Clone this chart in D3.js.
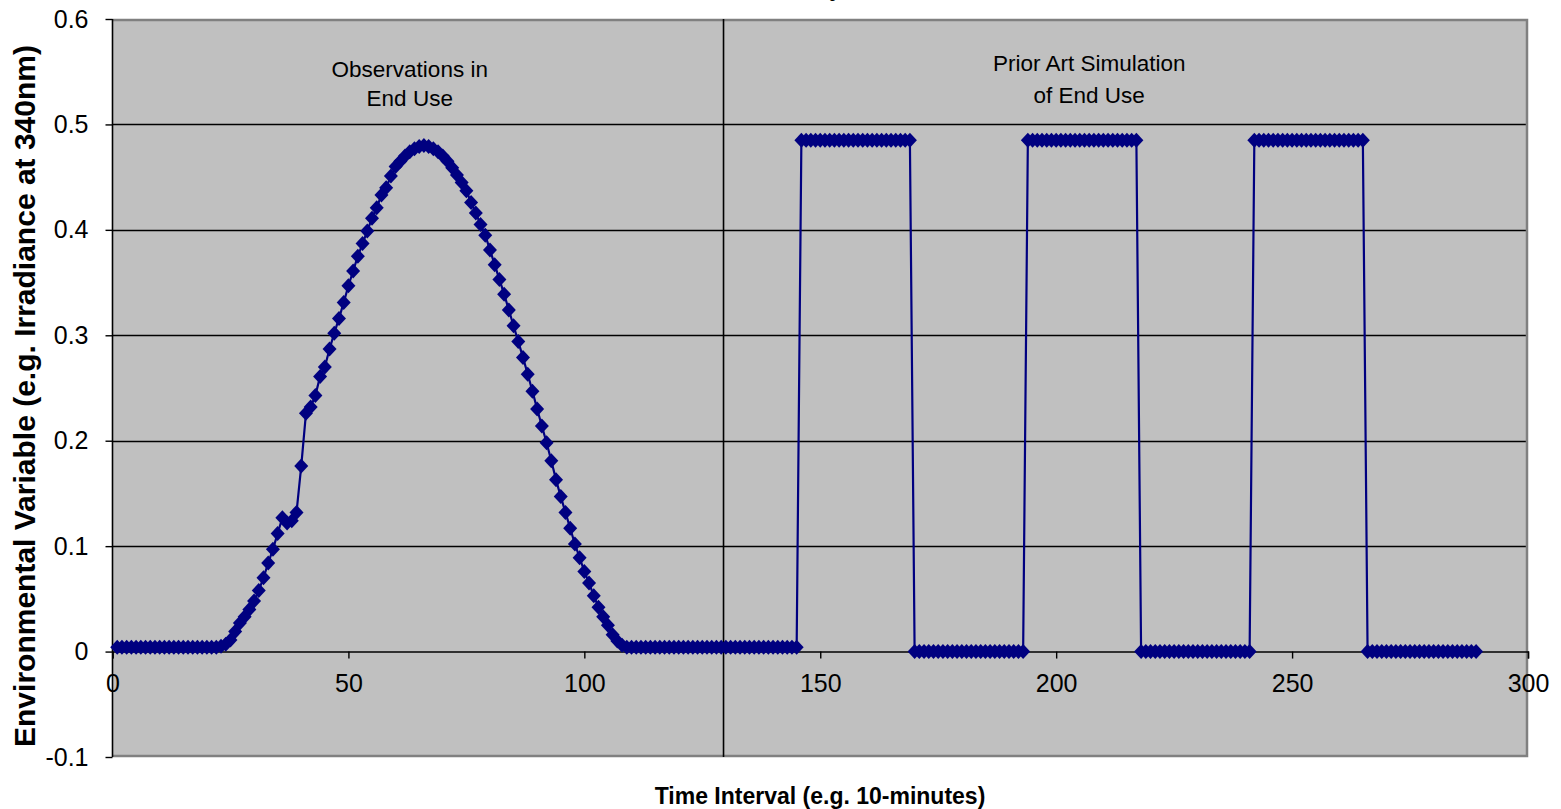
<!DOCTYPE html>
<html>
<head>
<meta charset="utf-8">
<script src="https://cdn.jsdelivr.net/npm/d3@7"></script>
<style>
  html, body { margin: 0; padding: 0; background: #ffffff; }
  svg { display: block; font-family: Arial, "Liberation Sans", sans-serif; }
</style>
</head>
<body>
<svg id="chart" width="1561" height="809"></svg>
<script>
// Observed profile (time index 1..145) followed by the stepped simulation (146..289)
const observedX = d3.range(1, 146);
const observedY = [
  // 1-22: night baseline
  0.004, 0.004, 0.004, 0.004, 0.004, 0.004, 0.004, 0.004, 0.004, 0.004,
  0.004, 0.004, 0.004, 0.004, 0.004, 0.004, 0.004, 0.004, 0.004, 0.004,
  0.004, 0.004,
  // 23-40: morning rise
  0.005, 0.007, 0.011, 0.019, 0.027, 0.033, 0.040, 0.048, 0.058, 0.070,
  0.084, 0.097, 0.112, 0.127, 0.122, 0.124, 0.132, 0.176,
  // 41-60
  0.226, 0.232, 0.243, 0.261, 0.270, 0.287, 0.302, 0.316, 0.331, 0.347,
  0.361, 0.375, 0.387, 0.399, 0.411, 0.421, 0.433, 0.440, 0.451, 0.460,
  // 61-75: midday peak
  0.465, 0.470, 0.474, 0.477, 0.479, 0.480, 0.479, 0.477, 0.474, 0.470,
  0.465, 0.459, 0.452, 0.445, 0.437,
  // 76-108: afternoon fall
  0.426, 0.416, 0.405, 0.395, 0.381, 0.367, 0.353, 0.339, 0.324, 0.309,
  0.294, 0.279, 0.263, 0.247, 0.230, 0.214, 0.198, 0.181, 0.163, 0.147,
  0.132, 0.117, 0.102, 0.089, 0.076, 0.065, 0.053, 0.042, 0.033, 0.025,
  0.016, 0.010, 0.006,
  // 109-145: evening baseline
  0.004, 0.004, 0.004, 0.004, 0.004, 0.004, 0.004, 0.004, 0.004, 0.004,
  0.004, 0.004, 0.004, 0.004, 0.004, 0.004, 0.004, 0.004, 0.004, 0.004,
  0.004, 0.004, 0.004, 0.004, 0.004, 0.004, 0.004, 0.004, 0.004, 0.004,
  0.004, 0.004, 0.004, 0.004, 0.004, 0.004, 0.004
];

// Stepped simulation: alternating blocks of "on" and "off"
const simulationX = d3.range(146, 290);
const simulationY = [
  // 146-169 on
  0.485, 0.485, 0.485, 0.485, 0.485, 0.485, 0.485, 0.485, 0.485, 0.485, 0.485, 0.485,
  0.485, 0.485, 0.485, 0.485, 0.485, 0.485, 0.485, 0.485, 0.485, 0.485, 0.485, 0.485,
  // 170-193 off
  0, 0, 0, 0, 0, 0, 0, 0, 0, 0, 0, 0, 0, 0, 0, 0, 0, 0, 0, 0, 0, 0, 0, 0,
  // 194-217 on
  0.485, 0.485, 0.485, 0.485, 0.485, 0.485, 0.485, 0.485, 0.485, 0.485, 0.485, 0.485,
  0.485, 0.485, 0.485, 0.485, 0.485, 0.485, 0.485, 0.485, 0.485, 0.485, 0.485, 0.485,
  // 218-241 off
  0, 0, 0, 0, 0, 0, 0, 0, 0, 0, 0, 0, 0, 0, 0, 0, 0, 0, 0, 0, 0, 0, 0, 0,
  // 242-265 on
  0.485, 0.485, 0.485, 0.485, 0.485, 0.485, 0.485, 0.485, 0.485, 0.485, 0.485, 0.485,
  0.485, 0.485, 0.485, 0.485, 0.485, 0.485, 0.485, 0.485, 0.485, 0.485, 0.485, 0.485,
  // 266-289 off
  0, 0, 0, 0, 0, 0, 0, 0, 0, 0, 0, 0, 0, 0, 0, 0, 0, 0, 0, 0, 0, 0, 0, 0
];

const xTicks = [0, 50, 100, 150, 200, 250, 300];
const yTicks = [-0.1, 0, 0.1, 0.2, 0.3, 0.4, 0.5, 0.6];
const dividerX = [129.5];
const regionLabels = [
  { x: 63, y: 0.545, gap: 29, lines: ["Observations in", "End Use"] },
  { x: 207, y: 0.551, gap: 32, lines: ["Prior Art Simulation", "of End Use"] }
];
const titleText = "Diurnal Variability";
const xTitle = "Time Interval (e.g. 10-minutes)";
const yTitle = "Environmental Variable (e.g. Irradiance at 340nm)";

const points = observedX.map((x, i) => ({ x, y: observedY[i] }))
  .concat(simulationX.map((x, i) => ({ x, y: simulationY[i] })));

const svg = d3.select("#chart");
const plot = { left: 112.5, right: 1528, top: 19, bottom: 757 };

const x = d3.scaleLinear().domain([0, 300]).range([plot.left, plot.right]);
const y = d3.scaleLinear().domain([-0.1, 0.6]).range([plot.bottom, plot.top]);

const navy = "#000080";
const fontFamily = "Arial, 'Liberation Sans', sans-serif";

// chart title, running off the top edge
svg.append("text")
  .attr("x", 842).attr("y", -4)
  .attr("text-anchor", "end")
  .attr("font-size", 23).attr("font-weight", "bold")
  .text(titleText);

// plot background
svg.append("rect")
  .attr("x", plot.left).attr("y", plot.top)
  .attr("width", plot.right - plot.left).attr("height", plot.bottom - plot.top)
  .attr("fill", "#c0c0c0");

// horizontal gridlines
svg.append("g").selectAll("line")
  .data(yTicks.filter(d => d > 0 && d < 0.6))
  .join("line")
  .attr("x1", plot.left).attr("x2", plot.right)
  .attr("y1", d => Math.round(y(d)) + 0.5).attr("y2", d => Math.round(y(d)) + 0.5)
  .attr("stroke", "#000").attr("stroke-width", 1.4);

// plot frame (top, right, bottom)
svg.append("path")
  .attr("d", `M${plot.left},${plot.top + 1}H${plot.right - 1}V${plot.bottom - 1}H${plot.left}`)
  .attr("fill", "none").attr("stroke", "#808080").attr("stroke-width", 2.5);

// divider between the two regions
svg.append("g").selectAll("line")
  .data(dividerX)
  .join("line")
  .attr("x1", d => x(d)).attr("x2", d => x(d))
  .attr("y1", plot.top).attr("y2", plot.bottom)
  .attr("stroke", "#000").attr("stroke-width", 1.6);

// y axis
const yAxis = svg.append("g")
  .attr("transform", `translate(${plot.left},0)`)
  .call(d3.axisLeft(y).tickValues(yTicks).tickSize(7).tickPadding(17)
    .tickFormat(d => String(+d.toFixed(1))));
yAxis.select(".domain").attr("stroke", "#000").attr("stroke-width", 1.6).attr("d", `M0,${plot.top}V${plot.bottom}`);
yAxis.selectAll(".tick line").attr("stroke", "#000").attr("stroke-width", 1.4);
yAxis.selectAll(".tick text").attr("font-size", 25).attr("fill", "#000")
  .attr("font-family", fontFamily);

// x axis crossing at zero
const xAxis = svg.append("g")
  .attr("transform", `translate(0,${y(0)})`)
  .call(d3.axisBottom(x).tickValues(xTicks).tickSize(7).tickPadding(16)
    .tickFormat(d => String(d)));
xAxis.select(".domain").attr("stroke", "#000").attr("stroke-width", 1.4);
xAxis.selectAll(".tick line").attr("stroke", "#000").attr("stroke-width", 1.4);
xAxis.selectAll(".tick text").attr("font-size", 25).attr("fill", "#000")
  .attr("font-family", fontFamily);

// series line
svg.append("path")
  .datum(points)
  .attr("fill", "none")
  .attr("stroke", navy).attr("stroke-width", 2.2)
  .attr("d", d3.line().x(d => x(d.x)).y(d => y(d.y)));

// diamond markers
const diamond = "M0,-7.5L7,0L0,7.5L-7,0Z";
svg.append("g").selectAll("path")
  .data(points)
  .join("path")
  .attr("d", diamond)
  .attr("transform", d => `translate(${x(d.x)},${y(d.y)})`)
  .attr("fill", navy);

// region labels
regionLabels.forEach(r => {
  const t = svg.append("text")
    .attr("x", x(r.x)).attr("y", y(r.y))
    .attr("text-anchor", "middle")
    .attr("font-size", 22.5).attr("fill", "#000");
  r.lines.forEach((line, i) => {
    t.append("tspan").attr("x", x(r.x)).attr("dy", i === 0 ? 0 : r.gap).text(line);
  });
});

// axis titles
svg.append("text")
  .attr("x", 820).attr("y", 804)
  .attr("text-anchor", "middle")
  .attr("font-size", 23).attr("font-weight", "bold")
  .text(xTitle);

svg.append("text")
  .attr("transform", `translate(35,396) rotate(-90)`)
  .attr("text-anchor", "middle")
  .attr("font-size", 30).attr("font-weight", "bold")
  .text(yTitle);
</script>
</body>
</html>
